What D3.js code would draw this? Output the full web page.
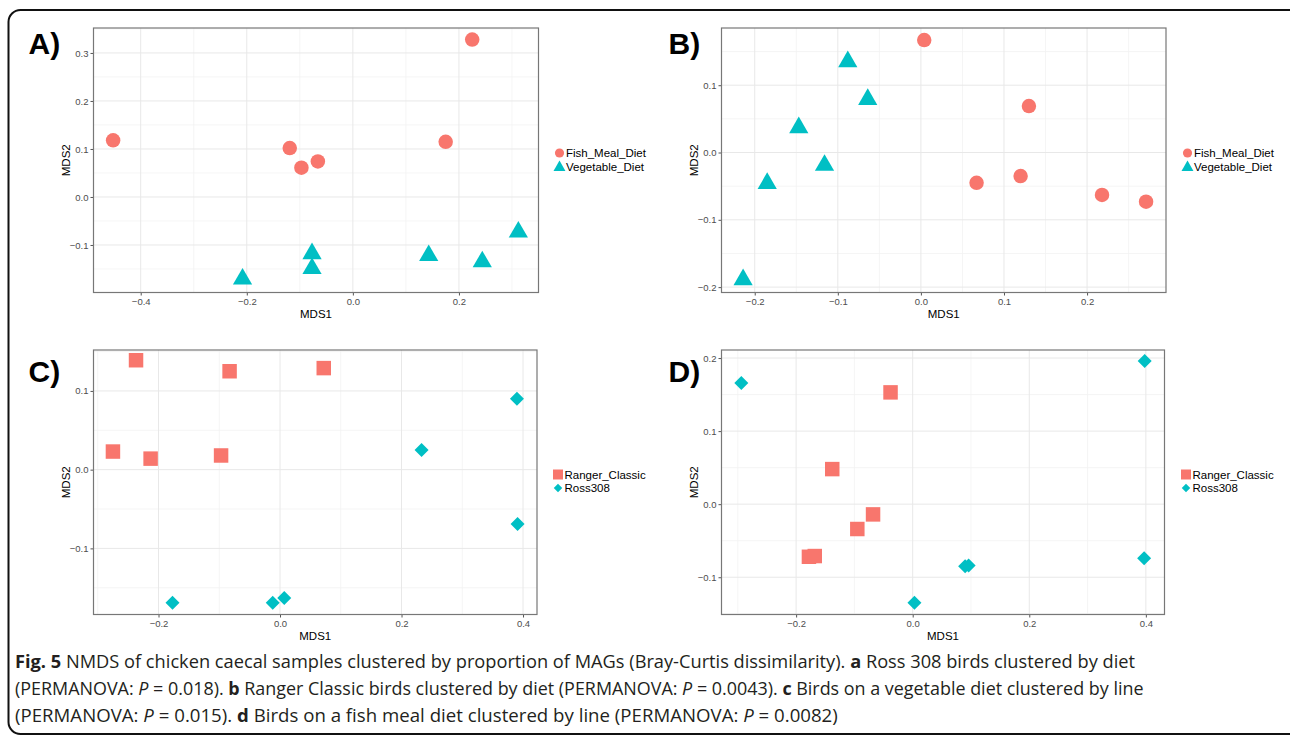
<!DOCTYPE html>
<meta charset="utf-8">
<title>NMDS of chicken caecal samples</title>
<script src="https://d3js.org/d3.v7.min.js"></script>
<style>
  body { margin: 0; background: #fff; font-family: "Liberation Sans", Arial, sans-serif; }
</style>
<div id="fig"></div>
<script>
// data (MDS1, MDS2)
var aFish = [[-0.452, 0.118], [-0.119, 0.102], [-0.097, 0.061], [-0.066, 0.074], [0.175, 0.115], [0.225, 0.328]];
var aVeg = [[-0.208, -0.171], [-0.077, -0.118], [-0.077, -0.149], [0.143, -0.122], [0.244, -0.135], [0.312, -0.073]];
var bFish = [[0.004, 0.167], [0.130, 0.069], [0.067, -0.045], [0.120, -0.035], [0.218, -0.063], [0.271, -0.073]];
var bVeg = [[-0.214, -0.189], [-0.185, -0.046], [-0.147, 0.037], [-0.116, -0.019], [-0.088, 0.135], [-0.064, 0.079]];
var cRanger = [[-0.237, 0.139], [-0.275, 0.023], [-0.213, 0.014], [-0.083, 0.125], [-0.097, 0.018], [0.072, 0.129]];
var cRoss = [[-0.177, -0.169], [-0.012, -0.169], [0.007, -0.163], [0.233, 0.025], [0.390, 0.090], [0.391, -0.069]];
var dRanger = [[-0.038, 0.153], [-0.138, 0.048], [-0.068, -0.014], [-0.095, -0.034], [-0.178, -0.072], [-0.168, -0.071]];
var dRoss = [[-0.294, 0.166], [0.398, 0.196], [0.090, -0.085], [0.096, -0.084], [0.003, -0.135], [0.397, -0.074]];

var aXTicks = [-0.4, -0.2, 0.0, 0.2], aYTicks = [-0.1, 0.0, 0.1, 0.2, 0.3];
var bXTicks = [-0.2, -0.1, 0.0, 0.1, 0.2], bYTicks = [-0.2, -0.1, 0.0, 0.1];
var cXTicks = [-0.2, 0.0, 0.2, 0.4], cYTicks = [-0.1, 0.0, 0.1];
var dXTicks = [-0.2, 0.0, 0.2, 0.4], dYTicks = [-0.1, 0.0, 0.1, 0.2];

var dietNames = ["Fish_Meal_Diet", "Vegetable_Diet"];
var lineNames = ["Ranger_Classic", "Ross308"];

var red = "#F8766D", teal = "#00BFC4";

var W = 1290, H = 736;
var svg = d3.select("#fig").append("svg")
    .attr("width", W)
    .attr("height", H);

// outer rounded frame
svg.append("rect")
  .attr("x", 8.5).attr("y", 10)
  .attr("width", 1300).attr("height", 724)
  .attr("rx", 12)
  .attr("fill", "none")
  .attr("stroke", "#111")
  .attr("stroke-width", 2);

// marker shapes
function shapePath(kind, big) {
  if (kind == "circle") return d3.symbol(d3.symbolCircle, big ? 165 : 66)();
  if (kind == "triangle") return d3.symbol(d3.symbolTriangle, big ? 160 : 62)();
  if (kind == "square") return d3.symbol(d3.symbolSquare, big ? 210 : 100)();
  return d3.symbol(d3.symbolSquare, big ? 98 : 36)();   // diamond, rotated below
}

function minorOf(ticks, domain) {
  var step = ticks[1] - ticks[0], out = [];
  for (var i = -1; i < ticks.length; i++) {
    var v = (i < 0 ? ticks[0] - step / 2 : ticks[i] + step / 2);
    if (v > domain[0] && v < domain[1]) out.push(v);
  }
  return out;
}

var panels = [
  {letter: "A)", lx: 28.5, ly: 53.5, box: [93.5, 538.5, 28, 292.5],
   xd: [-0.489, 0.350], yd: [-0.199, 0.352], xt: aXTicks, yt: aYTicks,
   groups: [{pts: aFish, shape: "circle", col: red}, {pts: aVeg, shape: "triangle", col: teal}],
   names: dietNames, legend: [559.5, 153]},
  {letter: "B)", lx: 668.5, ly: 53.5, box: [721.5, 1166, 28, 292.5],
   xd: [-0.240, 0.295], yd: [-0.208, 0.185], xt: bXTicks, yt: bYTicks,
   groups: [{pts: bFish, shape: "circle", col: red}, {pts: bVeg, shape: "triangle", col: teal}],
   names: dietNames, legend: [1187.5, 153]},
  {letter: "C)", lx: 28.5, ly: 381.5, box: [93.5, 537, 350, 614.5],
   xd: [-0.307, 0.423], yd: [-0.184, 0.152], xt: cXTicks, yt: cYTicks,
   groups: [{pts: cRanger, shape: "square", col: red}, {pts: cRoss, shape: "diamond", col: teal}],
   names: lineNames, legend: [558, 474.5]},
  {letter: "D)", lx: 668.5, ly: 381.5, box: [721.5, 1164.5, 350, 614.5],
   xd: [-0.328, 0.432], yd: [-0.151, 0.211], xt: dXTicks, yt: dYTicks,
   groups: [{pts: dRanger, shape: "square", col: red}, {pts: dRoss, shape: "diamond", col: teal}],
   names: lineNames, legend: [1186, 474.5]}
];

panels.forEach(function(p) {
  var x = d3.scaleLinear().domain(p.xd).range([p.box[0], p.box[1]]);
  var y = d3.scaleLinear().domain(p.yd).range([p.box[3], p.box[2]]);
  var g = svg.append("g");

  // minor gridlines
  g.selectAll(".xm").data(minorOf(p.xt, p.xd)).enter().append("line")
    .attr("x1", function(d) { return x(d); }).attr("x2", function(d) { return x(d); })
    .attr("y1", p.box[2]).attr("y2", p.box[3])
    .attr("stroke", "#f2f2f2").attr("stroke-width", 0.8);
  g.selectAll(".ym").data(minorOf(p.yt, p.yd)).enter().append("line")
    .attr("y1", function(d) { return y(d); }).attr("y2", function(d) { return y(d); })
    .attr("x1", p.box[0]).attr("x2", p.box[1])
    .attr("stroke", "#f2f2f2").attr("stroke-width", 0.8);

  // major gridlines
  g.selectAll(".xg").data(p.xt).enter().append("line")
    .attr("x1", function(d) { return x(d); }).attr("x2", function(d) { return x(d); })
    .attr("y1", p.box[2]).attr("y2", p.box[3])
    .attr("stroke", "#e8e8e8").attr("stroke-width", 1);
  g.selectAll(".yg").data(p.yt).enter().append("line")
    .attr("y1", function(d) { return y(d); }).attr("y2", function(d) { return y(d); })
    .attr("x1", p.box[0]).attr("x2", p.box[1])
    .attr("stroke", "#e8e8e8").attr("stroke-width", 1);

  // axes
  var xa = g.append("g")
    .attr("transform", "translate(0," + p.box[3] + ")")
    .call(d3.axisBottom(x).tickValues(p.xt).tickSize(3).tickPadding(3).tickFormat(d3.format(".1f")));
  var ya = g.append("g")
    .attr("transform", "translate(" + p.box[0] + ",0)")
    .call(d3.axisLeft(y).tickValues(p.yt).tickSize(3).tickPadding(2).tickFormat(d3.format(".1f")));
  [xa, ya].forEach(function(a) {
    a.select(".domain").remove();
    a.selectAll("line").attr("stroke", "#555");
    a.selectAll("text").attr("fill", "#4d4d4d")
      .style("font-size", "9.5px").style("font-family", "Liberation Sans, Arial, sans-serif");
  });

  // panel border
  g.append("rect")
    .attr("x", p.box[0]).attr("y", p.box[2])
    .attr("width", p.box[1] - p.box[0]).attr("height", p.box[3] - p.box[2])
    .attr("fill", "none").attr("stroke", "#777").attr("stroke-width", 1.2);

  // axis titles
  g.append("text")
    .attr("x", (p.box[0] + p.box[1]) / 2).attr("y", p.box[3] + 25)
    .attr("text-anchor", "middle")
    .style("font-size", "11.5px")
    .text("MDS1");
  g.append("text")
    .attr("transform", "translate(" + (p.box[0] - 24) + "," + ((p.box[2] + p.box[3]) / 2) + ") rotate(-90)")
    .attr("text-anchor", "middle")
    .style("font-size", "11.5px")
    .text("MDS2");

  // points
  p.groups.forEach(function(grp) {
    g.selectAll(null).data(grp.pts).enter().append("path")
      .attr("d", shapePath(grp.shape, true))
      .attr("transform", function(d) {
        return "translate(" + x(d[0]) + "," + y(d[1]) + ")" + (grp.shape == "diamond" ? " rotate(45)" : "");
      })
      .attr("fill", grp.col);
  });

  // legend
  p.groups.forEach(function(grp, i) {
    var ly = p.legend[1] + i * 13.5;
    g.append("path")
      .attr("d", shapePath(grp.shape, false))
      .attr("transform", "translate(" + p.legend[0] + "," + (ly + (grp.shape == "triangle" ? 1 : 0)) + ")" + (grp.shape == "diamond" ? " rotate(45)" : ""))
      .attr("fill", grp.col);
    g.append("text")
      .attr("x", p.legend[0] + 6.5).attr("y", ly + 4.2)
      .style("font-size", "11.5px")
      .text(p.names[i]);
  });

  // panel letter
  g.append("text")
    .attr("x", p.lx).attr("y", p.ly)
    .style("font-size", "30px").style("font-weight", "bold")
    .text(p.letter);
});

// caption
var captionLines = [
  [["Fig. 5", "b"], [" NMDS of chicken caecal samples clustered by proportion of MAGs (Bray-Curtis dissimilarity). ", ""], ["a", "b"], [" Ross 308 birds clustered by diet", ""]],
  [["(PERMANOVA: ", ""], ["P", "i"], [" = 0.018). ", ""], ["b", "b"], [" Ranger Classic birds clustered by diet (PERMANOVA: ", ""], ["P", "i"], [" = 0.0043). ", ""], ["c", "b"], [" Birds on a vegetable diet clustered by line", ""]],
  [["(PERMANOVA: ", ""], ["P", "i"], [" = 0.015). ", ""], ["d", "b"], [" Birds on a fish meal diet clustered by line (PERMANOVA: ", ""], ["P", "i"], [" = 0.0082)", ""]]
];
var captionEnds = [1136, 1144, 838];
var capX = 15;

captionLines.forEach(function(line, i) {
  var t = svg.append("text")
    .attr("x", 0).attr("y", 0)
    .style("font-family", "'Open Sans', sans-serif")
    .style("font-size", "17.5px")
    .attr("fill", "#231f20");
  line.forEach(function(seg) {
    t.append("tspan")
      .style("font-weight", seg[1] == "b" ? "bold" : "normal")
      .style("font-style", seg[1] == "i" ? "italic" : "normal")
      .text(seg[0]);
  });
  var w = t.node().getComputedTextLength();
  var k = (captionEnds[i] - capX) / w;
  t.attr("transform", "translate(" + capX + "," + (668 + i * 27) + ") scale(" + k + ",1)");
});
</script>
